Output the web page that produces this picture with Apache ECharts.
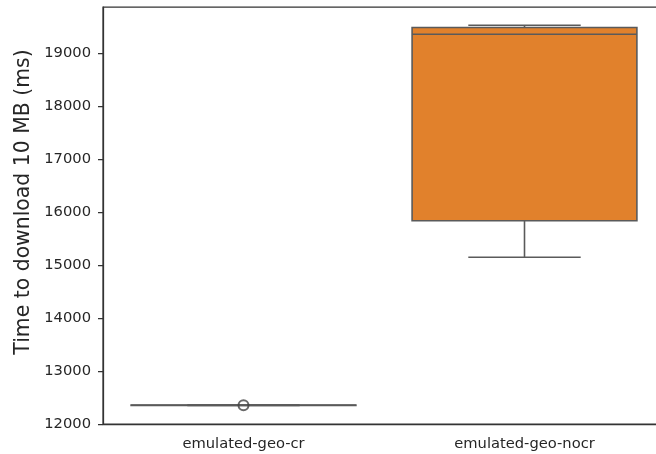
<!DOCTYPE html>
<html>
<head>
<meta charset="utf-8">
<script src="https://cdn.jsdelivr.net/npm/echarts@6/dist/echarts.min.js"></script>
<style>
  html, body { margin: 0; padding: 0; background: #ffffff; overflow: hidden; }
  #chart { width: 666px; height: 454px; }
</style>
</head>
<body>
<div id="chart"></div>
<script>
// Download-time distributions per scenario
const categories = ['emulated-geo-cr', 'emulated-geo-nocr'];
// [lower whisker, Q1, median, Q3, upper whisker] in ms
const boxStats = [
  [12350, 12352, 12354, 12356, 12358],
  [15151, 15840, 19365, 19492, 19535]
];
// [category index, value] of points beyond the whiskers
const outliers = [[0, 12355]];
const boxColors = ['#3274A1', '#E1812C'];
const yTicks = [12000, 13000, 14000, 15000, 16000, 17000, 18000, 19000];
const yMin = 12000;
const yMax = 19880;

const lineColor = '#5a5a5a';
const textColor = '#262626';
const fontFamily = 'DejaVu Sans, sans-serif';

function renderBox(params, api) {
  const i = api.value(0);
  const cx = api.coord([i, api.value(3)])[0];
  const band = api.size([1, 0])[0];
  const half = band * 0.4;
  const capHalf = band * 0.2;
  const y = k => api.coord([i, api.value(k)])[1];
  const lo = y(1), q1 = y(2), med = y(3), q3 = y(4), hi = y(5);
  const ls = { stroke: lineColor, lineWidth: 1.6 };
  return {
    type: 'group',
    children: [
      { type: 'line', shape: { x1: cx, y1: q1, x2: cx, y2: lo }, style: ls },
      { type: 'line', shape: { x1: cx, y1: q3, x2: cx, y2: hi }, style: ls },
      { type: 'line', shape: { x1: cx - capHalf, y1: lo, x2: cx + capHalf, y2: lo }, style: ls },
      { type: 'line', shape: { x1: cx - capHalf, y1: hi, x2: cx + capHalf, y2: hi }, style: ls },
      { type: 'rect', shape: { x: cx - half, y: q3, width: 2 * half, height: q1 - q3 },
        style: { fill: boxColors[i], stroke: lineColor, lineWidth: 1.6 } },
      { type: 'line', shape: { x1: cx - half, y1: med, x2: cx + half, y2: med }, style: ls }
    ]
  };
}

const chart = echarts.init(document.getElementById('chart'), null, { renderer: 'canvas' });
chart.setOption({
  animation: false,
  backgroundColor: '#ffffff',
  grid: {
    left: 103, top: 7, right: 1, bottom: 30,
    show: true, borderColor: '#333333', borderWidth: 1.25, backgroundColor: 'transparent'
  },
  xAxis: {
    type: 'category',
    data: categories,
    boundaryGap: true,
    axisLine: { lineStyle: { color: '#333333', width: 1.25 } },
    axisTick: { alignWithLabel: true, length: 5, lineStyle: { color: '#333333', width: 1.25 } },
    axisLabel: { color: textColor, fontSize: 14.7, fontFamily, margin: 13 },
    splitLine: { show: false }
  },
  yAxis: {
    type: 'value',
    min: yMin,
    max: yMax,
    name: 'Time to download 10 MB (ms)',
    nameLocation: 'middle',
    nameGap: 67,
    nameTextStyle: { color: textColor, fontSize: 20.4, fontFamily, padding: [0, 0, 0, 27] },
    axisLine: { show: true, lineStyle: { color: '#333333', width: 1.25 } },
    axisTick: { show: true, length: 5, customValues: yTicks, lineStyle: { color: '#333333', width: 1.25 } },
    axisLabel: {
      color: textColor, fontSize: 14.7, fontFamily, margin: 12, customValues: yTicks,
      formatter: v => String(v)
    },
    splitLine: { show: false }
  },
  series: [
    {
      type: 'custom',
      renderItem: renderBox,
      encode: { x: 0, y: [1, 2, 3, 4, 5] },
      data: boxStats.map((s, i) => [i].concat(s)),
      z: 2
    },
    {
      type: 'scatter',
      data: outliers,
      symbol: 'circle',
      symbolSize: 10,
      itemStyle: { color: 'rgba(0,0,0,0)', borderColor: '#444444', borderWidth: 2 },
      z: 3
    }
  ]
});
</script>
</body>
</html>
